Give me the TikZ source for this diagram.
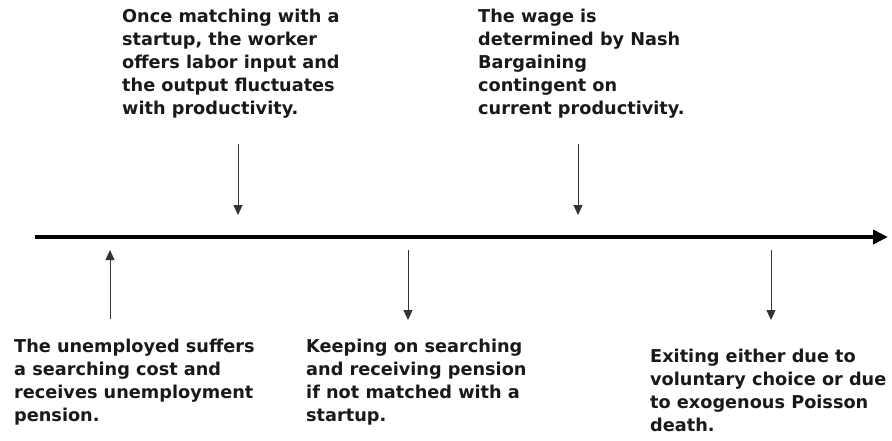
\documentclass[tikz,border=0pt]{standalone}
\usepackage{fontspec}
\setmainfont{DejaVu Sans}
\usetikzlibrary{arrows.meta}
\begin{document}
\begin{tikzpicture}[x=1pt,y=-1pt,
  lbl/.style={anchor=north west,align=left,inner sep=0pt,text=black!90,
    font=\bfseries\fontsize{17.7}{23}\selectfont},
  tick/.style={draw=black!80,line width=0.9pt,-{Triangle[length=10pt,width=9pt]}},
  axis/.style={draw=black,line width=4pt,-{Triangle[length=15pt,width=14pt]}}]
\useasboundingbox (0,0) rectangle (892,440);
\coordinate (a0) at (35,237);
\coordinate (a1) at (888,237);
\draw[axis] (a0) -- (a1);
% top texts
\node[lbl] (t1) at (122,9) {Once matching with a\\startup, the worker\\offers labor input and\\the output fluctuates\\with productivity.};
\node[lbl] (t2) at (478,9) {The wage is\\determined by Nash\\Bargaining\\contingent on\\current productivity.};
% bottom texts
\node[lbl] (b1) at (14,339) {The unemployed suffers\\a searching cost and\\receives unemployment\\pension.};
\node[lbl] (b2) at (306,339) {Keeping on searching\\and receiving pension\\if not matched with a\\startup.};
\node[lbl] (b3) at (650,349) {Exiting either due to\\voluntary choice or due\\to exogenous Poisson\\death.};
% arrows
\coordinate (u1s) at (110,319); \coordinate (u1e) at (110,250);
\coordinate (d1s) at (238,144); \coordinate (d1e) at (238,215);
\coordinate (d2s) at (578,144); \coordinate (d2e) at (578,215);
\coordinate (d3s) at (408,250); \coordinate (d3e) at (408,320);
\coordinate (d4s) at (771,250); \coordinate (d4e) at (771,320);
\draw[tick] (u1s) -- (u1e);
\draw[tick] (d1s) -- (d1e);
\draw[tick] (d2s) -- (d2e);
\draw[tick] (d3s) -- (d3e);
\draw[tick] (d4s) -- (d4e);
\end{tikzpicture}
\end{document}
